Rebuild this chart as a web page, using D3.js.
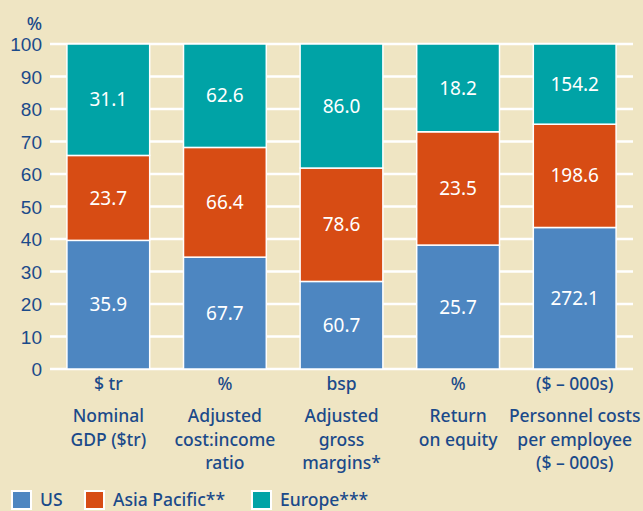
<!DOCTYPE html>
<meta charset="utf-8">
<script src="https://cdn.jsdelivr.net/npm/d3@7"></script>
<style>
body { margin: 0; background: #efe5c3; }
svg { display: block; font-family: "Noto Sans", "Open Sans", sans-serif; }
.tick text { fill: #1b4a8a; font-size: 19px; font-weight: 500; }
.lab { fill: #fff; font-size: 19px; }
.cat { fill: #1b4a8a; font-size: 17.5px; font-weight: 500; }
</style>
<svg width="643" height="511"></svg>
<script>

// data
var units = ["$ tr", "%", "bsp", "%", "($ \u2013 000s)"];
var names = [
    ["Nominal", "GDP ($tr)"],
    ["Adjusted", "cost:income", "ratio"],
    ["Adjusted", "gross", "margins*"],
    ["Return", "on equity"],
    ["Personnel costs", "per employee", "($ \u2013 000s)"]
];
var us = [35.9, 67.7, 60.7, 25.7, 272.1];
var asia = [23.7, 66.4, 78.6, 23.5, 198.6];
var europe = [31.1, 62.6, 86.0, 18.2, 154.2];
var series = ["US", "Asia Pacific**", "Europe***"];
var colors = ["#4d86c1", "#d74c14", "#00a3a6"];
var yTicks = [0, 10, 20, 30, 40, 50, 60, 70, 80, 90, 100];

var svg = d3.select("svg");

var rows = units.map(function(u, i) {
    return { i: i, us: us[i], asia: asia[i], europe: europe[i] };
});
var keys = ["us", "asia", "europe"];
// shares of each bar (100% stacked)
var stacked = d3.stack().keys(keys).offset(d3.stackOffsetExpand)(rows);

var x = d3.scaleBand().domain(d3.range(5)).range([50, 633]).paddingInner(0.29).paddingOuter(0.145);
var y = d3.scaleLinear().domain([0, 100]).range([369, 44]);

// grid
svg.append("g").selectAll("line")
    .data(yTicks)
    .enter().append("line")
    .attr("x1", 50).attr("x2", 633)
    .attr("y1", function(d) { return y(d); })
    .attr("y2", function(d) { return y(d); })
    .attr("stroke", "#fff")
    .attr("stroke-width", 2.5);

// y axis
var yAxis = svg.append("g")
    .attr("transform", "translate(42,0)")
    .call(d3.axisLeft(y).tickValues(yTicks).tickSize(0).tickPadding(0));
yAxis.select(".domain").remove();
yAxis.selectAll("text").attr("dy", "0.35em");

svg.append("text")
    .attr("x", 42).attr("y", 30)
    .attr("text-anchor", "end")
    .attr("fill", "#1b4a8a")
    .style("font-size", "18px")
    .style("font-weight", 500)
    .text("%");

// bars
var layer = svg.append("g").selectAll("g")
    .data(stacked)
    .enter().append("g")
    .attr("fill", function(d, i) { return colors[i]; });

layer.selectAll("rect")
    .data(function(d) { return d; })
    .enter().append("rect")
    .attr("x", function(d) { return x(d.data.i); })
    .attr("width", x.bandwidth())
    .attr("y", function(d) { return y(d[1] * 100); })
    .attr("height", function(d) { return y(d[0] * 100) - y(d[1] * 100); })
    .attr("stroke", "#fff")
    .attr("stroke-width", 1.5);

layer.selectAll("text")
    .data(function(d) { return d.map(function(p) { return { p: p, key: d.key }; }); })
    .enter().append("text")
    .attr("class", "lab")
    .attr("text-anchor", "middle")
    .attr("dy", "0.35em")
    .attr("x", function(d) { return x(d.p.data.i) + x.bandwidth() / 2; })
    .attr("y", function(d) { return y((d.p[0] + d.p[1]) * 50); })
    .text(function(d) { return d3.format(".1f")(d.p.data[d.key]); });

// category labels
var cat = svg.append("g").selectAll("g")
    .data(units)
    .enter().append("g")
    .attr("transform", function(d, i) { return "translate(" + (x(i) + x.bandwidth() / 2) + ",0)"; });

cat.append("text")
    .attr("class", "cat")
    .attr("text-anchor", "middle")
    .attr("y", 390)
    .text(function(d) { return d; });

cat.each(function(d, i) {
    d3.select(this).selectAll("text.nm")
        .data(names[i])
        .enter().append("text")
        .attr("class", "cat nm")
        .attr("text-anchor", "middle")
        .attr("y", function(t, j) { return 422 + j * 23.5; })
        .text(function(t) { return t; });
});

// legend
var legX = [12, 85, 252];
var leg = svg.append("g").selectAll("g")
    .data(series)
    .enter().append("g")
    .attr("transform", function(d, i) { return "translate(" + legX[i] + ",491)"; });

leg.append("rect")
    .attr("width", 19).attr("height", 18)
    .attr("fill", function(d, i) { return colors[i]; })
    .attr("stroke", "#fff")
    .attr("stroke-width", 2);

leg.append("text")
    .attr("class", "cat")
    .attr("x", 28).attr("y", 15)
    .text(function(d) { return d; });

</script>
